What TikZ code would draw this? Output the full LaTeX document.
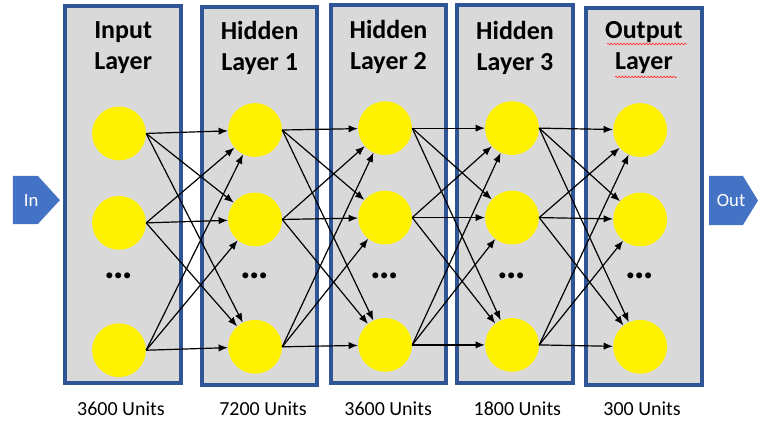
\documentclass[tikz,border=0pt]{standalone}
\usepackage{fontspec}
\setmainfont{Carlito}
\usepackage{tikz}
\usetikzlibrary{arrows.meta}
\usetikzlibrary{decorations.pathmorphing}

\definecolor{boxblue}{HTML}{2F5597}
\definecolor{sigblue}{HTML}{4472C4}
\definecolor{boxgray}{HTML}{D9D9D9}

\tikzset{
  layerbox/.style={draw=boxblue, line width=3pt, fill=boxgray},
  unit/.style={circle, fill=yellow, minimum size=1.42cm, inner sep=0pt},
  title/.style={align=center, font=\fontsize{19.5}{23}\selectfont\bfseries},
  count/.style={font=\fontsize{15}{18}\selectfont},
  dots/.style={anchor=base, font=\fontsize{30}{30}\selectfont\bfseries},
  conn/.style={-{Latex[length=7pt,width=5.5pt]}, line width=0.9pt},
  iotext/.style={text=white, inner sep=0pt, font=\fontsize{14}{16}\selectfont},
  spell/.style={red!80, line width=0.5pt, decorate, decoration={snake, amplitude=0.6pt, segment length=2.4pt}}
}

\begin{document}
\begin{tikzpicture}
    \useasboundingbox (0,0) rectangle (20,11.161);

    \draw[layerbox] (1.72,1.06) rectangle (4.78,11.00);
    \draw[layerbox] (5.33,1.00) rectangle (8.36,10.98);
    \draw[layerbox] (8.73,1.06) rectangle (11.77,11.03);
    \draw[layerbox] (12.06,1.06) rectangle (15.12,11.03);
    \draw[layerbox] (15.46,1.00) rectangle (18.52,10.95);

    \node[title] (t-0) at (3.25,9.90) {Input\\Layer};
    \node[title] (t-1) at (6.85,9.90) {Hidden\\Layer 1};
    \node[title] (t-2) at (10.25,9.93) {Hidden\\Layer 2};
    \node[title] (t-3) at (13.59,9.90) {Hidden\\Layer 3};
    \node[title] (t-4) at (16.99,9.90) {Output\\Layer};
    \draw[spell] (16.02,10.00) -- (18.13,10.00);
    \draw[spell] (16.23,9.13) -- (17.86,9.13);

    \foreach \l/\x/\d in {0/3.14/-0.14, 1/6.73/-0.05, 2/10.16/0, 3/13.51/0, 4/16.89/-0.05} {
        \node[unit] (u-\l-1) at ({\x},{7.78+(\d)}) {};
        \node[unit] (u-\l-2) at ({\x},{5.42+(\d)}) {};
        \node[unit] (u-\l-3) at ({\x},{2.06+(\d)}) {};
        \node[dots] (dots-\l) at (\x,3.80) {…};
    }

    \foreach \l/\m in {0/1, 1/2, 2/3, 3/4}
        \foreach \a in {1,2,3}
            \foreach \b in {1,2,3}
                \draw[conn] (u-\l-\a.east) -- (u-\m-\b);

    \fill[sigblue] (0.34,6.52) -- (1.00,6.52) -- (1.58,5.88) -- (1.00,5.25) -- (0.34,5.25) -- cycle;
    \node[iotext] (in) at (0.82,5.88) {In};
    \fill[sigblue] (18.71,6.52) -- (19.60,6.52) -- (20.00,5.87) -- (19.60,5.22) -- (18.71,5.22) -- cycle;
    \node[iotext] (out) at (19.29,5.87) {Out};

    \node[count] (c-0) at (3.19,0.37) {3600 Units};
    \node[count] (c-1) at (6.94,0.37) {7200 Units};
    \node[count] (c-2) at (10.24,0.37) {3600 Units};
    \node[count] (c-3) at (13.65,0.37) {1800 Units};
    \node[count] (c-4) at (16.94,0.37) {300 Units};
\end{tikzpicture}
\end{document}
